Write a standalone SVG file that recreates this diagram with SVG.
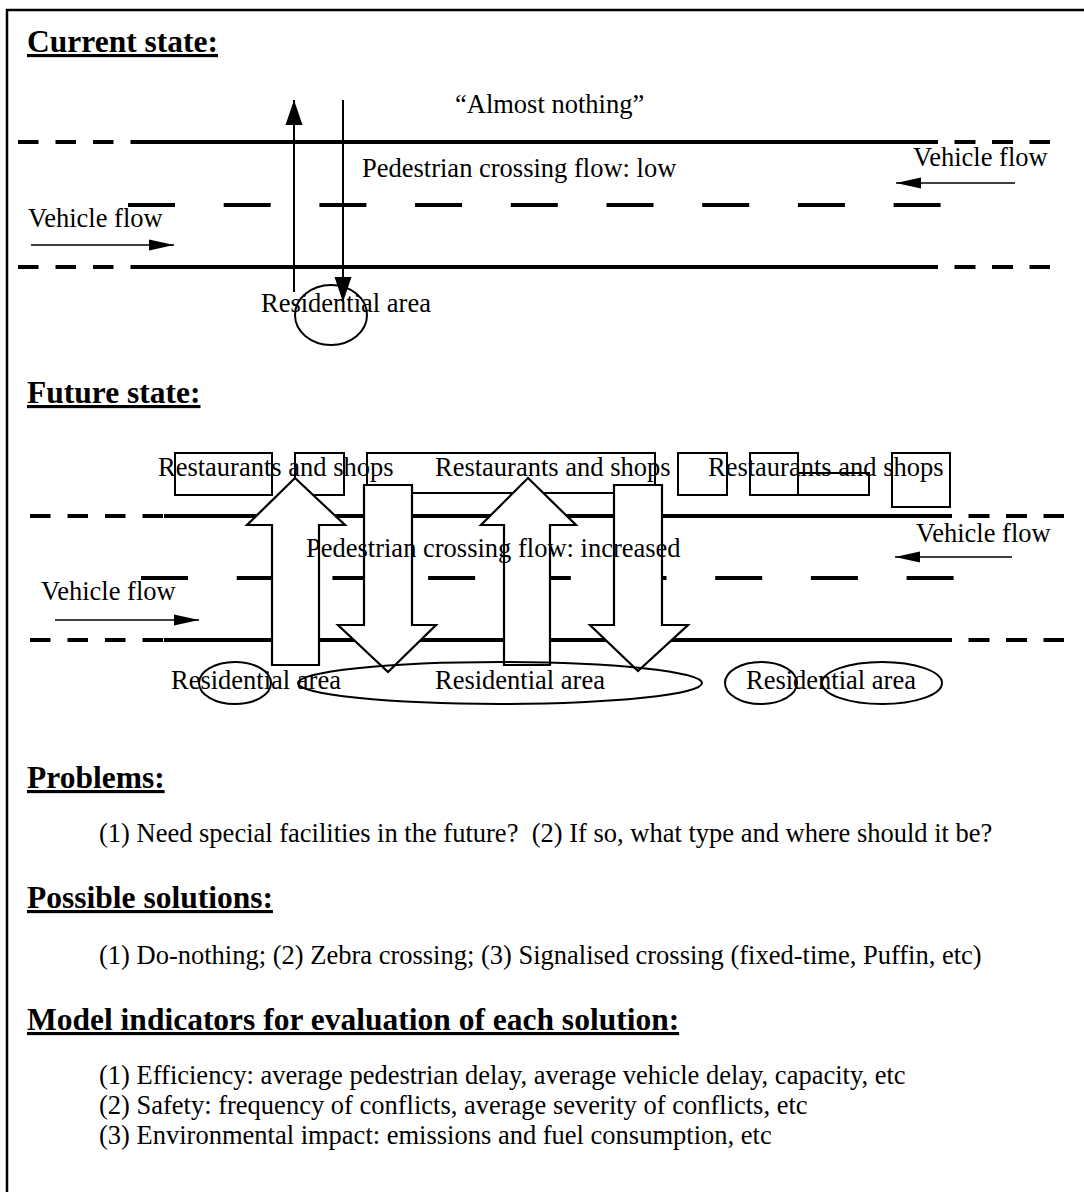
<svg xmlns="http://www.w3.org/2000/svg" width="1084" height="1192" viewBox="0 0 1084 1192">
<defs>
<style>
text{font-family:"Liberation Serif","Times New Roman",serif;fill:#000;white-space:pre}
.t{font-size:26.5px}
.h{font-size:31.5px;font-weight:bold;text-decoration:underline}
.road{stroke:#000;stroke-width:4;fill:none}
.edge{stroke:#000;stroke-width:4;stroke-dasharray:20.5 17;fill:none}
.edge2{stroke:#000;stroke-width:4;stroke-dasharray:21 16.5;fill:none}
.mid{stroke:#000;stroke-width:4;stroke-dasharray:47 48.7;fill:none}
.thin{stroke:#000;stroke-width:1.6;fill:none}
.ped{stroke:#000;stroke-width:2;fill:none}
.box{stroke:#000;stroke-width:2;fill:none}
.blk{stroke:#000;stroke-width:2.2;fill:#fff;stroke-linejoin:miter}
.ell{stroke:#000;stroke-width:2;fill:none}
</style>
<marker id="ah" markerUnits="userSpaceOnUse" markerWidth="26" markerHeight="12" refX="25" refY="6" orient="auto">
<path d="M0,0.5 L25,6 L0,11.5 Z" fill="#000"/>
</marker>
<marker id="ph" markerUnits="userSpaceOnUse" markerWidth="26" markerHeight="18" refX="25" refY="9" orient="auto">
<path d="M0,0.5 L25,9 L0,17.5 Z" fill="#000"/>
</marker>
</defs>
<rect width="1084" height="1192" fill="#fff"/>
<path d="M7,1192 V10 H1084" stroke="#000" stroke-width="2.5" fill="none"/>

<g id="current-title"><text class="h" x="27" y="52">Current state:</text></g>

<g id="current-road">
<line class="edge" x1="18" y1="142" x2="151" y2="142"/>
<line class="road" x1="151" y1="142" x2="917" y2="142"/>
<line class="edge2" x1="917" y1="142" x2="1050" y2="142"/>
<line class="mid" x1="128" y1="205" x2="941" y2="205"/>
<line class="edge" x1="18" y1="267" x2="151" y2="267"/>
<line class="road" x1="151" y1="267" x2="917" y2="267"/>
<line class="edge2" x1="917" y1="267" x2="1050" y2="267"/>
</g>

<g id="connectors">
<line class="ped" x1="294" y1="292" x2="294" y2="100" marker-end="url(#ph)"/>
<line class="ped" x1="343" y1="100" x2="343" y2="302" marker-end="url(#ph)"/>
<line class="thin" x1="1015" y1="183" x2="896" y2="183" marker-end="url(#ah)"/>
<line class="thin" x1="31" y1="245" x2="174" y2="245" marker-end="url(#ah)"/>
<line class="thin" x1="1012" y1="557" x2="895" y2="557" marker-end="url(#ah)"/>
<line class="thin" x1="55" y1="620" x2="199" y2="620" marker-end="url(#ah)"/>
</g>

<g id="current-residential">
<ellipse class="ell" cx="331" cy="315" rx="36" ry="30"/>
<text class="t" x="261" y="312">Residential area</text>
</g>
<g id="current-labels">
<text class="t" x="455" y="113">“Almost nothing”</text>
<text class="t" x="362" y="177">Pedestrian crossing flow: low</text>
<text class="t" x="913" y="166">Vehicle flow</text>
<text class="t" x="28" y="227">Vehicle flow</text>
</g>

<g id="future-title"><text class="h" x="27" y="403">Future state:</text></g>

<g id="future-road">
<line class="edge" x1="30" y1="516" x2="164" y2="516"/>
<line class="road" x1="164" y1="516" x2="931" y2="516"/>
<line class="edge2" x1="931" y1="516" x2="1064" y2="516"/>
<line class="mid" x1="141" y1="578" x2="957" y2="578"/>
<line class="edge" x1="30" y1="640" x2="164" y2="640"/>
<line class="road" x1="164" y1="640" x2="931" y2="640"/>
<line class="edge2" x1="931" y1="640" x2="1064" y2="640"/>
</g>

<g id="shops">
<rect class="box" x="175" y="453" width="97" height="42"/>
<rect class="box" x="295" y="453" width="49" height="42"/>
<rect class="box" x="367" y="453" width="288" height="40"/>
<rect class="box" x="678" y="453" width="49" height="42"/>
<rect class="box" x="750" y="453" width="48" height="42"/>
<rect class="box" x="798" y="473" width="71" height="22"/>
<rect class="box" x="892" y="453" width="58" height="54"/>
</g>

<g id="ped-flows">
<polygon class="blk" points="272,665 272,525 247,525 295,478 345,525 319,525 319,665"/>
<polygon class="blk" points="364,485 412,485 412,625 436,625 388,672 338,625 364,625"/>
<polygon class="blk" points="504,665 504,525 481,525 528,478 576,525 550,525 550,665"/>
<polygon class="blk" points="614,485 662,485 662,625 688,625 638,671 590,625 614,625"/>
</g>

<g id="future-residential">
<ellipse class="ell" cx="235" cy="683" rx="36" ry="21"/>
<ellipse class="ell" cx="500" cy="683" rx="202" ry="21"/>
<ellipse class="ell" cx="761" cy="683" rx="36" ry="21"/>
<ellipse class="ell" cx="882" cy="683" rx="60" ry="21"/>
<text class="t" x="171" y="689">Residential area</text>
<text class="t" x="435" y="689">Residential area</text>
<text class="t" x="746" y="689">Residential area</text>
</g>

<g id="future-labels">
<text class="t" x="158" y="476">Restaurants and shops</text>
<text class="t" x="435" y="476">Restaurants and shops</text>
<text class="t" x="708" y="476">Restaurants and shops</text>
<text class="t" x="306" y="557">Pedestrian crossing flow: increased</text>
<text class="t" x="916" y="542">Vehicle flow</text>
<text class="t" x="41" y="600">Vehicle flow</text>
</g>

<g id="problems">
<text class="h" x="27" y="788">Problems:</text>
<text class="t" x="99" y="842">(1) Need special facilities in the future?  (2) If so, what type and where should it be?</text>
</g>
<g id="solutions">
<text class="h" x="27" y="908">Possible solutions:</text>
<text class="t" x="99" y="964">(1) Do-nothing; (2) Zebra crossing; (3) Signalised crossing (fixed-time, Puffin, etc)</text>
</g>
<g id="indicators">
<text class="h" x="27" y="1030">Model indicators for evaluation of each solution:</text>
<text class="t" x="99" y="1084">(1) Efficiency: average pedestrian delay, average vehicle delay, capacity, etc</text>
<text class="t" x="99" y="1114">(2) Safety: frequency of conflicts, average severity of conflicts, etc</text>
<text class="t" x="99" y="1144">(3) Environmental impact: emissions and fuel consumption, etc</text>
</g>
</svg>
